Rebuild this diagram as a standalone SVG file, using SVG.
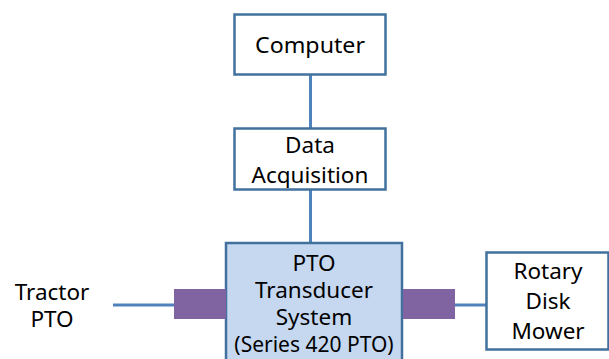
<svg xmlns="http://www.w3.org/2000/svg" width="609" height="359" viewBox="0 0 609 359">
<style>
.box{fill:#ffffff;stroke:#41719c;stroke-width:2.5}
.pto{fill:#c5d8f0;stroke:#41719c;stroke-width:2.5}
.line{stroke:#4f81bd;stroke-width:3;fill:none}
.coup{fill:#8064a2}
text{font-family:"Noto Sans","Open Sans",sans-serif;font-size:22.5px;fill:#000;text-anchor:middle}
.small{font-size:21px}
</style>
<rect width="609" height="359" fill="#ffffff"/>
<g id="connectors">
<line class="line" x1="310.5" y1="75" x2="310.5" y2="128"/>
<line class="line" x1="310.5" y1="190" x2="310.5" y2="243"/>
<line class="line" x1="113" y1="305" x2="175" y2="305"/>
<line class="line" x1="454" y1="305" x2="487" y2="305"/>
</g>
<g id="computer">
<rect class="box" x="234.5" y="14.5" width="151" height="60"/>
<text x="310" y="53" textLength="110" lengthAdjust="spacingAndGlyphs">Computer</text>
</g>
<g id="daq">
<rect class="box" x="234.5" y="128.5" width="151" height="61"/>
<text x="310" y="153">Data</text>
<text x="310" y="183">Acquisition</text>
</g>
<g id="pto">
<rect class="pto" x="226" y="243" width="176" height="130"/>
<text x="314" y="271">PTO</text>
<text x="314" y="298">Transducer</text>
<text x="314" y="325">System</text>
<text class="small" x="314" y="352">(Series 420 PTO)</text>
</g>
<g id="coupler-left">
<rect class="coup" x="174" y="289" width="52" height="30"/>
</g>
<g id="coupler-right">
<rect class="coup" x="403" y="289" width="52" height="30"/>
</g>
<g id="tractor">
<text x="52" y="300">Tractor</text>
<text x="52" y="327">PTO</text>
</g>
<g id="mower">
<rect class="box" x="486.5" y="252.5" width="122" height="97"/>
<text x="548" y="279">Rotary</text>
<text x="548" y="309">Disk</text>
<text x="548" y="339">Mower</text>
</g>
</svg>
